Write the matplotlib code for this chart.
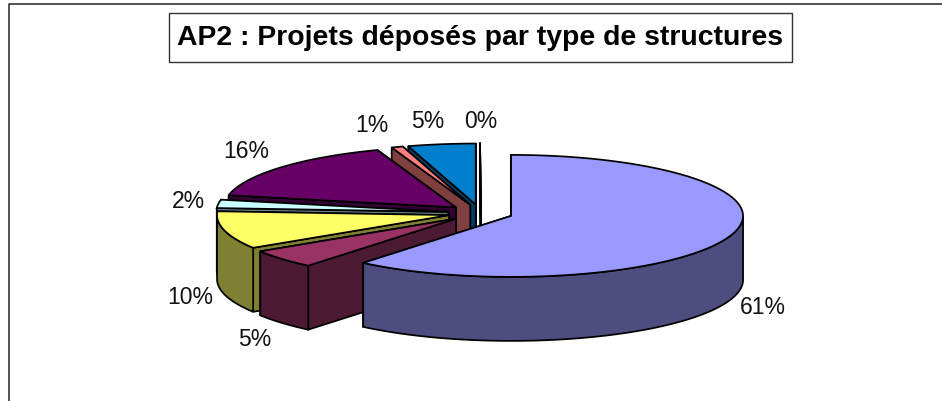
import numpy as np
import matplotlib
matplotlib.use("Agg")
import matplotlib.pyplot as plt
from matplotlib.patches import Polygon, Rectangle

plt.rcParams['font.family'] = ['Liberation Sans', 'DejaVu Sans']

# slice values, clockwise from 12 o'clock (labels are the rounded ones)
values = [61, 5, 10, 2.2, 16.3, 0.8, 4.7, 0]
labels = ['61%', '5%', '10%', '2%', '16%', '1%', '5%', '0%']
top_colors = ['#9999FF', '#993366', '#FFFF66', '#CCFFFF', '#660066', '#FF8080', '#0080CC', '#CCCCFF']
side_colors = ['#4D4D80', '#4D1A33', '#808033', '#668080', '#330033', '#804040', '#004066', '#666680']
label_pos = [(763, 308), (255, 340), (190, 297), (188, 201), (246, 151), (372, 125), (428, 122), (481, 122)]
title = 'AP2 : Projets déposés par type de structures'

# pie geometry in pixels
cx, cy = 480.5, 213
rx, ry = 232, 61
depth = 64
explode = 0.14
lw = 1.25


def point(ang, ox, oy, r=1.0):
    return ox + r * rx * np.sin(ang), oy - r * ry * np.cos(ang)


def arc(a0, a1, ox, oy, n=80):
    t = np.linspace(a0, a1, n)
    return np.column_stack(point(t, ox, oy))


fig = plt.figure(figsize=(9.42, 4.01), dpi=100)
ax = fig.add_axes([0, 0, 1, 1])
ax.set_xlim(0, 942)
ax.set_ylim(401, 0)
ax.axis('off')

# chart frame, cut by the picture on the right and at the bottom
ax.plot([9, 9, 942], [401, 3.5, 3.5], color='#222222', lw=1.1)

edges = np.radians(np.concatenate([[0], np.cumsum(values)]) * 360 / sum(values))

# back slices first so the front ones paint over them
for i in range(len(values) - 1, -1, -1):
    a0, a1 = edges[i], edges[i + 1]
    mid = (a0 + a1) / 2
    ox, oy = point(mid, cx, cy, explode)
    apex = np.array([ox, oy])
    for a in (a1, a0):
        p = np.array(point(a, ox, oy))
        wall = [apex, p, p + [0, depth], apex + [0, depth]]
        ax.add_patch(Polygon(wall, fc=side_colors[i], ec='black', lw=lw, joinstyle='round'))
    # outer wall only where the rim faces the viewer
    v0, v1 = max(a0, np.pi / 2), min(a1, 3 * np.pi / 2)
    if v1 > v0:
        rim = arc(v0, v1, ox, oy)
        ax.add_patch(Polygon(np.vstack([rim, rim[::-1] + [0, depth]]), fc=side_colors[i], ec='black', lw=lw))
    top = np.vstack([apex, arc(a0, a1, ox, oy)])
    ax.add_patch(Polygon(top, fc=top_colors[i], ec='black', lw=lw))

for txt, (x, y) in zip(labels, label_pos):
    ax.text(x, y, txt, fontsize=16.5, color='#111111', ha='center', va='center')

ax.add_patch(Rectangle((169, 12.5), 623, 49.5, fc='white', ec='#333333', lw=1.0))
ax.text(480, 38, title, fontsize=20.4, fontweight='bold', color='black', ha='center', va='center')

fig.savefig('out.png', dpi=100)
